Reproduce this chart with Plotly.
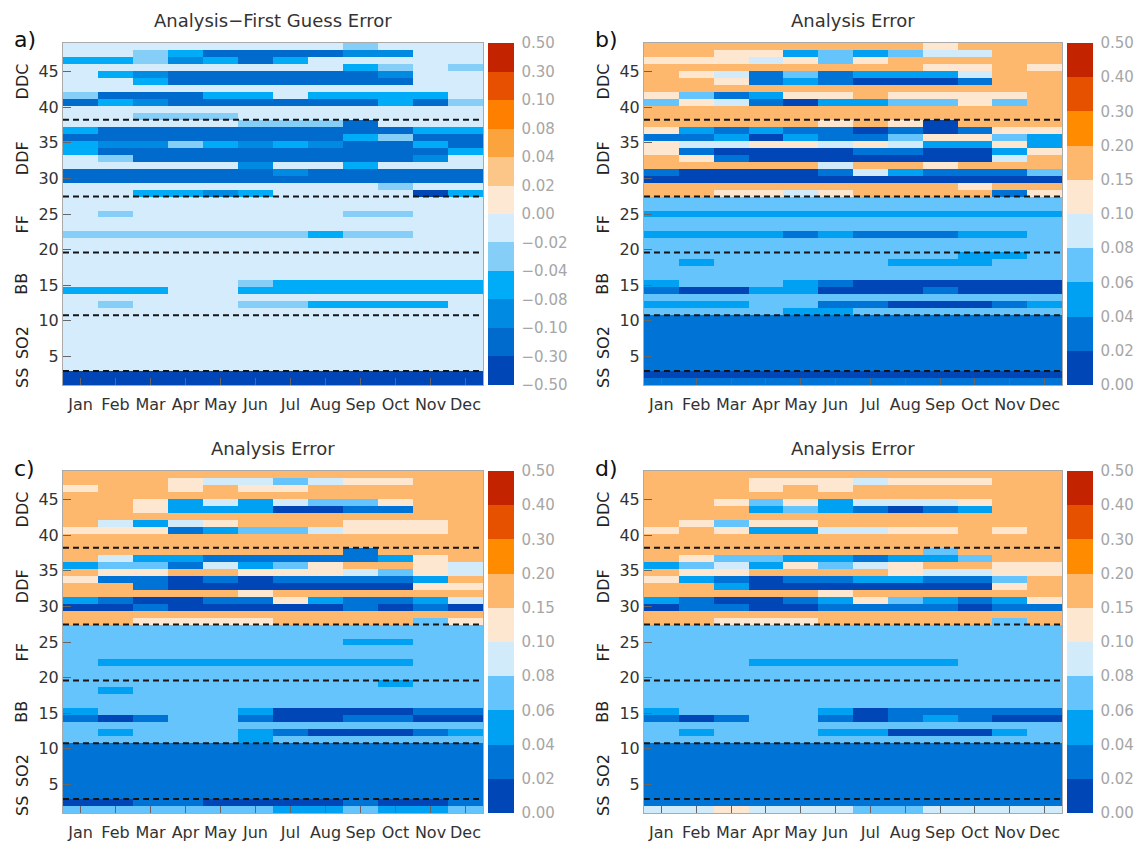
import numpy as np
import plotly.graph_objects as go

# ---------------- data ----------------
months = ["Jan", "Feb", "Mar", "Apr", "May", "Jun", "Jul", "Aug", "Sep", "Oct", "Nov", "Dec"]
# aerosol sections, bottom to top, and their number of rows
sections = ["SS", "SO2", "BB", "FF", "DDF", "DDC"]
section_rows = [2, 8, 9, 8, 11, 11]

# colour-bar levels
levels_diff = [-0.50, -0.30, -0.10, -0.08, -0.04, -0.02, 0.00, 0.02, 0.04, 0.08, 0.10, 0.30, 0.50]
labels_diff = ["\u22120.50", "\u22120.30", "\u22120.10", "\u22120.08", "\u22120.04", "\u22120.02",
               "0.00", "0.02", "0.04", "0.08", "0.10", "0.30", "0.50"]
colors_diff = ["#0046b6", "#006acd", "#008ae2", "#00abf8", "#84cef8", "#d4ecfb",
               "#fde8d3", "#fdc689", "#fba33c", "#ff7f00", "#e65000", "#c42300"]

levels_err = [0.00, 0.02, 0.04, 0.06, 0.08, 0.10, 0.15, 0.20, 0.30, 0.40, 0.50]
labels_err = ["0.00", "0.02", "0.04", "0.06", "0.08", "0.10", "0.15", "0.20", "0.30", "0.40", "0.50"]
colors_err = ["#0046b6", "#0073d7", "#00a1f3", "#65c4fc", "#d2ebfb",
              "#fee7d0", "#fdb86e", "#ff8c00", "#e65100", "#c42300"]

# level-bin index per cell; rows listed from top (row 49) to bottom (row 1), Jan..Dec
grid_a = [
    # DDC
    "555555554555", "554311112255", "334231355555", "555555553454", "532111111255",
    "553111111155", "555555555555", "411133533335", "132111111314", "555555555555",
    "554445555555",
    # DDF
    "555554441555", "311111111133", "111111113411", "322432321131", "311111111113",
    "541111111125", "555552553555", "111111211111", "111111111111", "555555555455",
    "553323555503",
    # FF
    "555555555555", "555555555555", "545555554455", "555555555555", "555555555555",
    "444444434455", "555555555555", "555555555555",
    # BB
    "555555555555", "555555555555", "555555555555", "555555555555", "555554333333",
    "333553333333", "555555555555", "545554433335", "555555555555",
    # SO2
    "555555555555", "555555555555", "555555555555", "555555555555",
    "555555555555", "555555555555", "555555555555", "555555555555",
    # SS
    "000000000000", "000000000000",
]

grid_b = [
    # DDC
    "666666665666", "665523234466", "555453566666", "666666665565", "654131222466",
    "665121000166", "666666666666", "531255655556", "354102233536", "666666666666",
    "666666666666",
    # DDF
    "666665650666", "521211010155", "112021135532", "544554542252", "510000110025",
    "651000000046", "666664665666", "100001421113", "000000000000", "666666666566",
    "665545666615",
    # FF
    "333333333333", "333333333333", "222222222222", "333333333333", "333333333333",
    "222212111223", "333333333333", "333333333333",
    # BB
    "333333333223", "323333322233", "333333333333", "333333333333", "233321000000",
    "100220001000", "333333333333", "222331100012", "333322333333",
    # SO2
    "111111111111", "111111111111", "111111111111", "111111111111",
    "111111111111", "111111111111", "111111111111", "111111111111",
    # SS
    "000000000000", "111111111111",
]

grid_c = [
    # DDC
    "666666666666", "666544345566", "566565566666", "666666666666", "665242433566",
    "665222001166", "666666666666", "642456665556", "555123345556", "666666666666",
    "666666666666",
    # DDF
    "666666661666", "642211111256", "233142356654", "655665554354", "511010111126",
    "661000000055", "666665666666", "210011521124", "001000001010", "666666666666",
    "665555666635",
    # FF
    "333333333333", "333333333333", "333333332233", "333333333333", "333333333333",
    "322222222233", "333333333333", "333333333333",
    # BB
    "333333333233", "323333333333", "333333333333", "333333333333", "233332000011",
    "101331001100", "333333333333", "323332100012", "333332333333",
    # SO2
    "111111111111", "111111111111", "111111111111", "111111111111",
    "111111111111", "111111111111", "111111111111", "111111111111",
    # SS
    "001100001001", "333333223223",
]

grid_d = [
    # DDC
    "666666666666", "666555455566", "666565666666", "666666666666", "665352444566",
    "666232101266", "666666666666", "653556666666", "565224455656", "666666666666",
    "666666666666",
    # DDF
    "666666663666", "653322122366", "234253456655", "655666654455", "521011221136",
    "662000000056", "666665666666", "210012532125", "011001111011", "666666666666",
    "665556666636",
    # FF
    "333333333333", "333333333333", "333333333333", "333333333333", "333333333333",
    "333222222333", "333333333333", "333333333333",
    # BB
    "333333333333", "333333333333", "333333333333", "333333333333", "233332011111",
    "101331012100", "333333333333", "323332200023", "333333333333",
    # SO2
    "111111111111", "111111111111", "111111111111", "111111111111",
    "111111111111", "111111111111", "111111111111", "111111111111",
    # SS
    "111111111111", "445444334444",
]

panel_letters = ["a)", "b)", "c)", "d)"]
panel_titles = ["Analysis\u2212First Guess Error", "Analysis Error", "Analysis Error", "Analysis Error"]

# ---------------- layout helpers ----------------
W, H = 1142, 841
FONT = "DejaVu Sans"
n_rows = sum(section_rows)
y_lo, y_hi = 1, 49
y_edges = np.linspace(y_lo, y_hi, n_rows + 1)
bounds = np.cumsum([0] + section_rows)
sec_edges = y_edges[bounds]
sec_centers = (sec_edges[:-1] + sec_edges[1:]) / 2

# pixel boxes of the four heat maps (left, right, top, bottom)
boxes = [(63, 483, 43, 385), (644, 1062, 43, 385), (63, 483, 471, 813), (644, 1062, 471, 813)]


def stepped(colors):
    n = len(colors)
    cs = []
    for i, c in enumerate(colors):
        cs.append([i / n, c])
        cs.append([(i + 1) / n, c])
    return cs


panels = [
    (grid_a, colors_diff, labels_diff),
    (grid_b, colors_err, labels_err),
    (grid_c, colors_err, labels_err),
    (grid_d, colors_err, labels_err),
]

fig = go.Figure()
annotations = []
shapes = []

for k, (grid, cols, labs) in enumerate(panels):
    l, r, t, b = boxes[k]
    sfx = "" if k == 0 else str(k + 1)
    nb = len(cols)
    z = np.array([[int(ch) for ch in row] for row in grid[::-1]], dtype=float) + 0.5
    fig.add_trace(go.Heatmap(
        z=z, x=list(range(len(months))), y=y_edges,
        zmin=0, zmax=nb, colorscale=stepped(cols),
        xaxis="x" + sfx, yaxis="y" + sfx, hoverinfo="skip",
        colorbar=dict(
            x=(r + 5) / W, xanchor="left", xpad=0, ypad=0,
            y=1 - (t + b) / 2 / H, yanchor="middle",
            len=b - t, lenmode="pixels", thickness=26, thicknessmode="pixels",
            outlinewidth=0,
            tickmode="array", tickvals=list(range(nb + 1)), ticktext=labs,
            ticks="outside", ticklen=5, tickcolor="rgba(0,0,0,0)",
            tickfont=dict(family=FONT, size=15, color="#a6a6a6"),
        ),
    ))
    xa = dict(domain=[l / W, r / W], range=[-0.5, len(months) - 0.5],
              tickmode="array", tickvals=list(range(len(months))), ticktext=months,
              ticks="inside", ticklen=7, tickcolor="#666", tickwidth=1,
              ticklabelstandoff=5,
              showline=True, linecolor="#aaaaaa", linewidth=1, mirror=True,
              showgrid=False, zeroline=False,
              tickfont=dict(family=FONT, size=16, color="#333"),
              anchor="y" + sfx)
    ya = dict(domain=[1 - b / H, 1 - t / H], range=[y_lo, y_hi],
              tickmode="array", tickvals=[5, 10, 15, 20, 25, 30, 35, 40, 45],
              ticks="inside", ticklen=8, tickcolor="#666", tickwidth=1,
              showline=True, linecolor="#aaaaaa", linewidth=1, mirror=True,
              showgrid=False, zeroline=False,
              tickfont=dict(family=FONT, size=16, color="#333"),
              anchor="x" + sfx)
    fig.update_layout(**{"xaxis" + sfx: xa, "yaxis" + sfx: ya})

    # dashed separators between sections
    for yv in sec_edges[1:-1]:
        shapes.append(dict(type="line", xref="x" + sfx + " domain", yref="y" + sfx,
                           x0=0, x1=1, y0=yv, y1=yv,
                           line=dict(color="#151515", width=2, dash="6px,4px")))
    # section labels
    for name, yc in zip(sections, sec_centers):
        annotations.append(dict(text=name, xref="paper", yref="y" + sfx,
                                x=(l - 41) / W, y=yc, textangle=-90, showarrow=False,
                                xanchor="center", yanchor="middle",
                                font=dict(family=FONT, size=16, color="#222")))
    # title
    annotations.append(dict(text=panel_titles[k], xref="paper", yref="paper",
                            x=(l + r) / 2 / W, y=1 - (t - 23) / H, showarrow=False,
                            xanchor="center", yanchor="middle",
                            font=dict(family=FONT, size=18, color="#333")))
    # panel letter
    annotations.append(dict(text=panel_letters[k], xref="paper", yref="paper",
                            x=(l - 51) / W, y=1 - (t - 3) / H, showarrow=False,
                            xanchor="left", yanchor="middle",
                            font=dict(family=FONT, size=22, color="#111")))

fig.update_layout(
    width=W, height=H, margin=dict(l=0, r=0, t=0, b=0),
    paper_bgcolor="white", plot_bgcolor="white",
    showlegend=False, annotations=annotations, shapes=shapes,
)

fig.write_html("out.html", config={"displayModeBar": False},
               post_script="document.body.style.margin='0px';")
